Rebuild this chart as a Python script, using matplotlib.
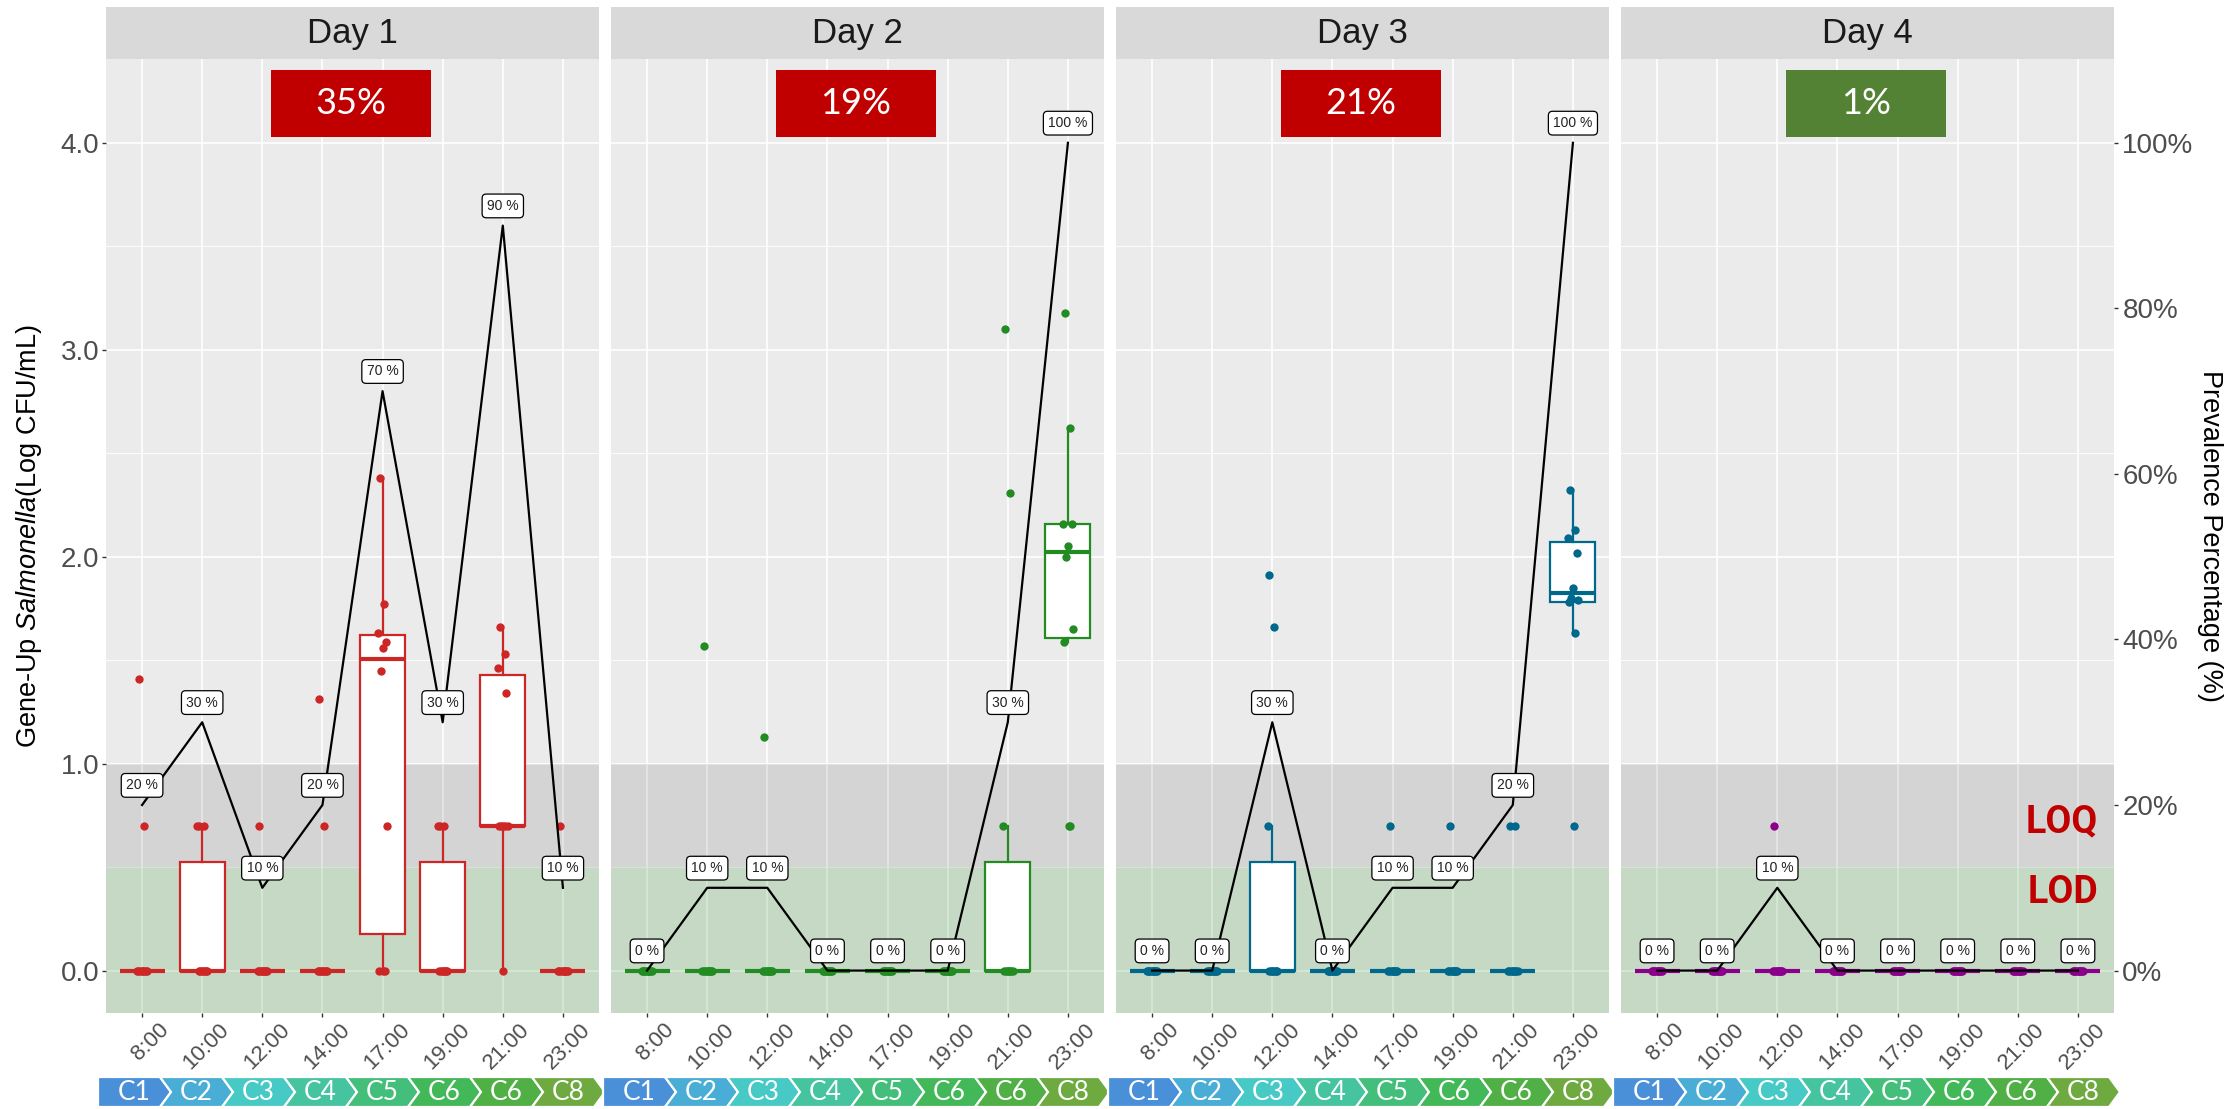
import matplotlib
matplotlib.use("Agg")
import matplotlib.pyplot as plt
from matplotlib.patches import Rectangle, Polygon
from matplotlib.transforms import ScaledTranslation

plt.rcParams["font.family"] = ["Liberation Sans", "DejaVu Sans"]
plt.rcParams["mathtext.fontset"] = "custom"
plt.rcParams["mathtext.rm"] = "Liberation Sans"
plt.rcParams["mathtext.it"] = "Liberation Sans:italic"

# ---------------- data ----------------
days = ["Day 1", "Day 2", "Day 3", "Day 4"]
times = ["8:00", "10:00", "12:00", "14:00", "17:00", "19:00", "21:00", "23:00"]
stages = ["C1", "C2", "C3", "C4", "C5", "C6", "C6", "C8"]

# Gene-Up Salmonella counts (Log CFU/mL), 10 samples per sampling time
day1_counts = [
    [1.41, 0.7, 0, 0, 0, 0, 0, 0, 0, 0],
    [0.7, 0.7, 0.7, 0, 0, 0, 0, 0, 0, 0],
    [0.7, 0, 0, 0, 0, 0, 0, 0, 0, 0],
    [1.31, 0.7, 0, 0, 0, 0, 0, 0, 0, 0],
    [2.38, 1.77, 1.63, 1.59, 1.56, 1.45, 0.7, 0, 0, 0],
    [0.7, 0.7, 0.7, 0, 0, 0, 0, 0, 0, 0],
    [1.66, 1.53, 1.46, 1.34, 0.7, 0.7, 0.7, 0.7, 0.7, 0],
    [0.7, 0, 0, 0, 0, 0, 0, 0, 0, 0],
]
day2_counts = [
    [0, 0, 0, 0, 0, 0, 0, 0, 0, 0],
    [1.57, 0, 0, 0, 0, 0, 0, 0, 0, 0],
    [1.13, 0, 0, 0, 0, 0, 0, 0, 0, 0],
    [0, 0, 0, 0, 0, 0, 0, 0, 0, 0],
    [0, 0, 0, 0, 0, 0, 0, 0, 0, 0],
    [0, 0, 0, 0, 0, 0, 0, 0, 0, 0],
    [3.10, 2.31, 0.7, 0, 0, 0, 0, 0, 0, 0],
    [3.18, 2.62, 2.16, 2.16, 2.05, 2.00, 1.65, 1.59, 0.7, 0.7],
]
day3_counts = [
    [0, 0, 0, 0, 0, 0, 0, 0, 0, 0],
    [0, 0, 0, 0, 0, 0, 0, 0, 0, 0],
    [1.91, 1.66, 0.7, 0, 0, 0, 0, 0, 0, 0],
    [0, 0, 0, 0, 0, 0, 0, 0, 0, 0],
    [0.7, 0, 0, 0, 0, 0, 0, 0, 0, 0],
    [0.7, 0, 0, 0, 0, 0, 0, 0, 0, 0],
    [0.7, 0.7, 0, 0, 0, 0, 0, 0, 0, 0],
    [2.32, 2.13, 2.09, 2.02, 1.85, 1.80, 1.79, 1.78, 1.63, 0.7],
]
day4_counts = [
    [0, 0, 0, 0, 0, 0, 0, 0, 0, 0],
    [0, 0, 0, 0, 0, 0, 0, 0, 0, 0],
    [0.7, 0, 0, 0, 0, 0, 0, 0, 0, 0],
    [0, 0, 0, 0, 0, 0, 0, 0, 0, 0],
    [0, 0, 0, 0, 0, 0, 0, 0, 0, 0],
    [0, 0, 0, 0, 0, 0, 0, 0, 0, 0],
    [0, 0, 0, 0, 0, 0, 0, 0, 0, 0],
    [0, 0, 0, 0, 0, 0, 0, 0, 0, 0],
]

# prevalence (%) per sampling time
day1_prev = [20, 30, 10, 20, 70, 30, 90, 10]
day2_prev = [0, 10, 10, 0, 0, 0, 30, 100]
day3_prev = [0, 0, 30, 0, 10, 10, 20, 100]
day4_prev = [0, 0, 10, 0, 0, 0, 0, 0]

# overall daily prevalence
daily_prev = ["35%", "19%", "21%", "1%"]

counts = [day1_counts, day2_counts, day3_counts, day4_counts]
prevs = [day1_prev, day2_prev, day3_prev, day4_prev]

# ---------------- styling ----------------
day_colors = ["#CD2626", "#228B22", "#00688B", "#8B008B"]
badge_colors = ["#C00000", "#C00000", "#C00000", "#548235"]
stage_colors = ["#4A90D9", "#49ADD6", "#47C9C6", "#45C49F", "#43BE7B",
                "#43B859", "#50AF45", "#6EAA3F"]
jitter = [-0.05, 0.03, -0.08, 0.06, 0.0, -0.03, 0.08, -0.06, 0.04, 0.01]
SEC_SCALE = 25.0  # 100 % on the right axis sits at 4.0 on the left axis

W, H = 2237, 1109
fig = plt.figure(figsize=(W / 100, H / 100), dpi=100)
fig.patch.set_facecolor("white")

panel_left = [106, 611, 1116, 1621]
panel_w = 493
panel_top, panel_bot, strip_top = 59, 1013, 7


def fx(px):
    return px / W


def fy(py):
    return 1 - py / H


axes = []
for d in range(4):
    ax = fig.add_axes([fx(panel_left[d]), fy(panel_bot), panel_w / W,
                       (panel_bot - panel_top) / H])
    axes.append(ax)
    c = day_colors[d]
    ax.set_facecolor("#EBEBEB")
    ax.set_xlim(-0.6, 7.6)
    ax.set_ylim(-0.205, 4.405)
    for s in ax.spines.values():
        s.set_visible(False)

    # grid
    ax.set_axisbelow(True)
    ax.set_yticks([0, 1, 2, 3, 4])
    ax.set_yticks([0.5, 1.5, 2.5, 3.5], minor=True)
    ax.set_xticks(range(len(times)))
    ax.grid(True, which="major", color="white", lw=1.2)
    ax.grid(True, which="minor", axis="y", color="white", lw=0.6)
    ax.tick_params(which="minor", length=0)

    # detection / quantification bands
    ax.axhspan(0.5, 1.0, color="black", alpha=0.095, lw=0, zorder=1)
    ax.axhspan(-0.3, 0.5, color="#008000", alpha=0.16, lw=0, zorder=1)

    # boxplots
    data = counts[d]
    ax.boxplot(data, positions=range(len(times)), widths=0.75, patch_artist=True,
               showfliers=False, showcaps=False, manage_ticks=False, whis=1.5,
               boxprops=dict(facecolor="white", edgecolor=c, linewidth=1.6),
               medianprops=dict(color=c, linewidth=3.0, solid_capstyle="butt"),
               whiskerprops=dict(color=c, linewidth=1.6), zorder=2)

    # individual samples
    for i, vals in enumerate(data):
        ax.scatter([i + jitter[k] for k in range(len(vals))], vals, s=36,
                   color=c, linewidths=0, zorder=3)

    # prevalence line and labels
    p = prevs[d]
    ax.plot(range(len(times)), [v / SEC_SCALE for v in p], color="black",
            lw=1.6, zorder=4)
    for i, v in enumerate(p):
        ax.text(i, v / SEC_SCALE + 0.095, f"{v} %", ha="center", va="center",
                fontsize=10, color="#222222", zorder=6,
                bbox=dict(boxstyle="round,pad=0.35,rounding_size=0.3",
                          fc="white", ec="black", lw=0.9))

    # daily prevalence badge
    ax.add_patch(Rectangle((2.15, 4.03), 2.65, 0.32, facecolor=badge_colors[d],
                           lw=0, zorder=6))
    ax.text(3.475, 4.19, daily_prev[d], ha="center", va="center", color="white",
            fontsize=26, family=["Lato", "DejaVu Sans"], zorder=7)

    # x tick labels
    ax.set_xticklabels(times, rotation=45, ha="right", va="center",
                       rotation_mode="anchor")
    ax.tick_params(axis="x", length=3, width=1, color="#333333", labelsize=16,
                   labelcolor="#4D4D4D", pad=7)
    off = ScaledTranslation(24 / 100, 0, fig.dpi_scale_trans)
    for lab in ax.get_xticklabels():
        lab.set_transform(lab.get_transform() + off)

    if d == 0:
        ax.set_yticklabels(["0.0", "1.0", "2.0", "3.0", "4.0"])
        ax.tick_params(axis="y", length=3, width=1, color="#333333",
                       labelsize=20, labelcolor="#4D4D4D", pad=2)
    else:
        ax.tick_params(axis="y", which="major", length=0, labelleft=False)

    # facet strip
    fig.add_artist(Rectangle((fx(panel_left[d]), fy(panel_top)), panel_w / W,
                             (panel_top - strip_top) / H,
                             transform=fig.transFigure, facecolor="#D9D9D9",
                             lw=0))
    fig.text(fx(panel_left[d] + panel_w / 2), fy((panel_top + strip_top) / 2),
             days[d], ha="center", va="center", fontsize=25, color="#1A1A1A")

# LOQ / LOD markers in the last panel
ax4 = axes[3]
ax4.text(7.34, 0.67, "LOQ", ha="right", va="baseline", color="#C00000",
         fontsize=27, fontweight="bold", family=["Roboto", "DejaVu Sans"], zorder=7)
ax4.text(7.34, 0.325, "LOD", ha="right", va="baseline", color="#C00000",
         fontsize=27, fontweight="bold", family=["Roboto", "DejaVu Sans"], zorder=7)

# right-hand prevalence axis
sec = ax4.secondary_yaxis("right", functions=(lambda y: y * SEC_SCALE,
                                              lambda q: q / SEC_SCALE))
sec.set_yticks([0, 20, 40, 60, 80, 100])
sec.set_yticklabels([f"{v}%" for v in [0, 20, 40, 60, 80, 100]])
sec.tick_params(axis="y", length=3, width=1, color="#333333", labelsize=20,
                labelcolor="#4D4D4D", pad=3)
for s in sec.spines.values():
    s.set_visible(False)

# axis titles
fig.text(fx(29), fy((panel_top + panel_bot) / 2),
         r"Gene-Up $\mathit{Salmonella}$(Log CFU/mL)", rotation=90,
         ha="center", va="center", fontsize=19.5, color="black")
fig.text(fx(2210), fy((panel_top + panel_bot) / 2), "Prevalence Percentage (%)",
         rotation=270, ha="center", va="center", fontsize=19.5, color="black")

# process stage chevrons beneath each panel
ov = fig.add_axes([0, 0, 1, 1], zorder=-1)
ov.set_xlim(0, W)
ov.set_ylim(H, 0)
ov.axis("off")
ch_top, ch_bot = 1077, 1107
ch_mid = (ch_top + ch_bot) / 2
tip = 11
for d in range(4):
    start = panel_left[d] - 8
    end = panel_left[d] + panel_w + 6
    sw = (end - start - tip) / len(stages)
    for k, lab in enumerate(stages):
        x0 = start + k * sw
        x1 = x0 + sw
        pts = [(x0, ch_top), (x1, ch_top), (x1 + tip, ch_mid), (x1, ch_bot),
               (x0, ch_bot)]
        if k > 0:
            pts.append((x0 + tip, ch_mid))
        ov.add_patch(Polygon(pts, closed=True, facecolor=stage_colors[k],
                             edgecolor="white", lw=1.6))
        ov.text(x0 + sw / 2 + tip / 2, ch_mid + 1, lab, ha="center",
                va="center", color="white", fontsize=19,
                family=["Lato", "DejaVu Sans"])

fig.savefig("out.png", dpi=100, facecolor="white")
